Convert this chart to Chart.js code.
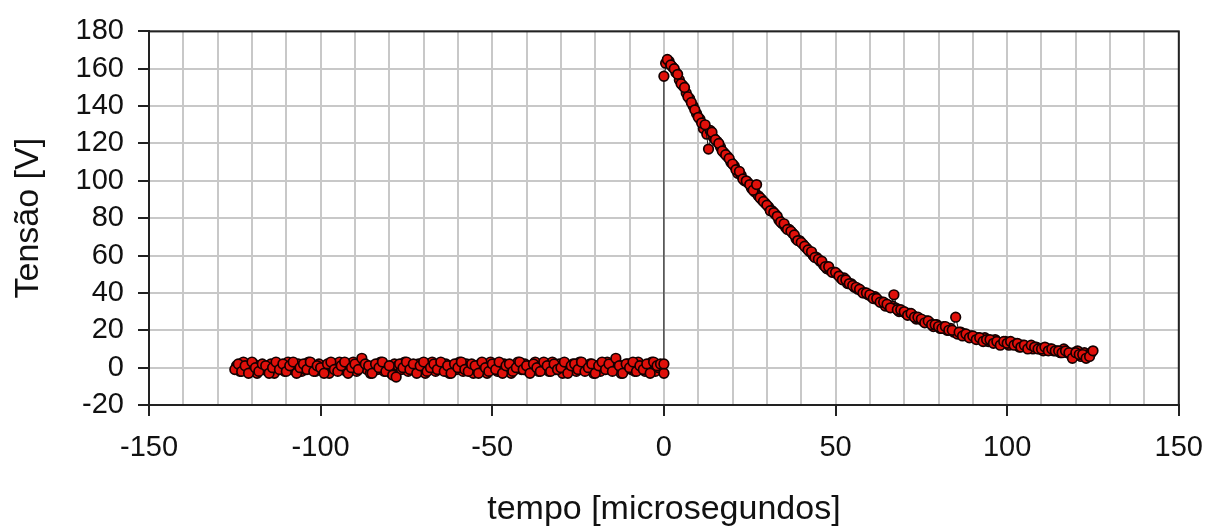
<!DOCTYPE html>
<html>
<head>
<meta charset="utf-8">
<script src="https://cdn.jsdelivr.net/npm/chart.js@4.4.1/dist/chart.umd.min.js"></script>
<style>
  body { margin: 0; background: #fff; }
  #box { width: 1218px; height: 527px; }
</style>
</head>
<body>
<div id="box"><canvas id="grafico"></canvas></div>
<script>
//______________________________________________________
// before the switch: tempo [us] and tensao [V]
var tempoPre = [
  -125, -124, -123, -122, -121, -120, -119, -118, -117, -116,
  -115, -114, -113, -112, -111, -110, -109, -108, -107, -106,
  -105, -104, -103, -102, -101, -100, -99, -98, -97, -96,
  -95, -94, -93, -92, -91, -90, -89, -88, -87, -86,
  -85, -84, -83, -82, -81, -80, -79, -78, -77, -76,
  -75, -74, -73, -72, -71, -70, -69, -68, -67, -66,
  -65, -64, -63, -62, -61, -60, -59, -58, -57, -56,
  -55, -54, -53, -52, -51, -50, -49, -48, -47, -46,
  -45, -44, -43, -42, -41, -40, -39, -38, -37, -36,
  -35, -34, -33, -32, -31, -30, -29, -28, -27, -26,
  -25, -24, -23, -22, -21, -20, -19, -18, -17, -16,
  -15, -14, -13, -12, -11, -10, -9, -8, -7, -6,
  -5, -4, -3, -2, -1, 0, 0
];
var tensaoPre = [
  -1, 2, -2, 1, -3, 3, 0, -2, 2, 1,
  -3, 0, 3, -1, 2, -2, 1, 3, -3, 0,
  2, -1, 3, -2, 1, 0, -3, 2, 3, -1,
  -2, 1, 3, -3, 0, 2, -1, 5, 2, 1,
  -3, 2, 0, 3, -2, 1, -4, -5, 2, 0,
  3, -1, 2, -3, 1, 3, -2, 0, 2, -1,
  3, -2, 1, -3, 2, 0, 3, -1, -2, 2,
  1, -3, 3, 0, -2, 2, -1, 3, -3, 1,
  2, -2, 0, 3, -1, 1, -3, 2, 0, -2,
  3, 1, -2, 2, -1, 0, 3, -3, 1, 2,
  -1, 3, -2, 0, 2, -3, 1, 3, -1, 2,
  -2, 5, 1, -3, 2, 0, 3, -2, 1, -1,
  2, -3, 3, 1, 2, -3, 2
];
// samples taken between the ones above
var tempoPreMeio = [
  -124.5, -123.5, -122.5, -121.5, -120.5, -119.5, -118.5, -117.5, -116.5, -115.5,
  -114.5, -113.5, -112.5, -111.5, -110.5, -109.5, -108.5, -107.5, -106.5, -105.5,
  -104.5, -103.5, -102.5, -101.5, -100.5, -99.5, -98.5, -97.5, -96.5, -95.5,
  -94.5, -93.5, -92.5, -91.5, -90.5, -89.5, -88.5, -87.5, -86.5, -85.5,
  -84.5, -83.5, -82.5, -81.5, -80.5, -79.5, -78.5, -77.5, -76.5, -75.5,
  -74.5, -73.5, -72.5, -71.5, -70.5, -69.5, -68.5, -67.5, -66.5, -65.5,
  -64.5, -63.5, -62.5, -61.5, -60.5, -59.5, -58.5, -57.5, -56.5, -55.5,
  -54.5, -53.5, -52.5, -51.5, -50.5, -49.5, -48.5, -47.5, -46.5, -45.5,
  -44.5, -43.5, -42.5, -41.5, -40.5, -39.5, -38.5, -37.5, -36.5, -35.5,
  -34.5, -33.5, -32.5, -31.5, -30.5, -29.5, -28.5, -27.5, -26.5, -25.5,
  -24.5, -23.5, -22.5, -21.5, -20.5, -19.5, -18.5, -17.5, -16.5, -15.5,
  -14.5, -13.5, -12.5, -11.5, -10.5, -9.5, -8.5, -7.5, -6.5, -5.5,
  -4.5, -3.5, -2.5, -1.5, -0.5
];
var tensaoPreMeio = [
  1, -2, 3, 0, -1, 2, -3, 1, 0, -2,
  2, -3, 1, 0, -2, 3, -1, 0, 2, -2,
  -1, 3, 0, -2, 2, -1, 1, -3, 0, 2,
  3, -1, -2, 1, 3, -2, 0, 2, -1, -3,
  1, -1, 3, -2, 0, -3, 2, 1, -1, 3,
  -2, 1, 0, 2, -1, -3, 2, 3, -2, 1,
  0, 2, -3, 1, -1, 3, -2, 2, 0, -3,
  -1, 2, 0, -3, 3, 1, -2, 0, 2, -1,
  -3, 1, 3, -1, 2, -2, 0, 3, -2, 1,
  0, -2, 3, -1, 2, -3, 1, 0, 2, -2,
  3, 0, -1, 2, -3, 1, -2, 0, 3, -1,
  1, 2, -3, 0, 2, -1, -2, 3, 0, -2,
  1, 3, -2, 0, 1
];
// after the switch: the discharge
var tempoPos = [
  0, 1, 2, 3, 4, 5, 6, 7, 8, 9,
  10, 11, 12, 13, 14, 15, 16, 17, 18, 19,
  20, 21, 22, 23, 24, 25, 26, 27, 28, 29,
  30, 31, 32, 33, 34, 35, 36, 37, 38, 39,
  40, 41, 42, 43, 44, 45, 46, 47, 48, 49,
  50, 51, 52, 53, 54, 55, 56, 57, 58, 59,
  60, 61, 62, 63, 64, 65, 66, 67, 68, 69,
  70, 71, 72, 73, 74, 75, 76, 77, 78, 79,
  80, 81, 82, 83, 84, 85, 86, 87, 88, 89,
  90, 91, 92, 93, 94, 95, 96, 97, 98, 99,
  100, 101, 102, 103, 104, 105, 106, 107, 108, 109,
  110, 111, 112, 113, 114, 115, 116, 117, 118, 119,
  120, 121, 122, 123, 124, 125
];
var tensaoPos = [
  156, 165, 162, 160, 157, 152, 150, 145, 142, 138,
  134, 131, 130, 117, 126, 122, 120, 116, 114, 112,
  109, 106, 105, 101, 100, 98, 95, 98, 91, 89,
  87, 84, 83, 81, 78, 77, 74, 73, 71, 68,
  67, 65, 63, 62, 59, 58, 57, 54, 54, 51,
  51, 49, 47, 47, 45, 44, 43, 42, 40, 40,
  39, 37, 37, 35, 35, 34, 32, 39, 31, 31,
  30, 28, 29, 27, 27, 26, 24, 25, 23, 23,
  22, 21, 22, 20, 20, 27, 19, 17, 18, 16,
  17, 15, 16, 14, 15, 15, 13, 14, 12, 14,
  13, 14, 12, 13, 11, 12, 10, 12, 11, 10,
  10, 11, 9, 10, 9, 9, 8, 9, 8, 5,
  8, 7, 7, 5, 6, 9
];
var tempoPosMeio = [
  0.5, 1.5, 2.5, 3.5, 4.5, 5.5, 6.5, 7.5, 8.5, 9.5,
  10.5, 11.5, 12.5, 13.5, 14.5, 15.5, 16.5, 17.5, 18.5, 19.5,
  20.5, 21.5, 22.5, 23.5, 24.5, 25.5, 26.5, 27.5, 28.5, 29.5,
  30.5, 31.5, 32.5, 33.5, 34.5, 35.5, 36.5, 37.5, 38.5, 39.5,
  40.5, 41.5, 42.5, 43.5, 44.5, 45.5, 46.5, 47.5, 48.5, 49.5,
  50.5, 51.5, 52.5, 53.5, 54.5, 55.5, 56.5, 57.5, 58.5, 59.5,
  60.5, 61.5, 62.5, 63.5, 64.5, 65.5, 66.5, 67.5, 68.5, 69.5,
  70.5, 71.5, 72.5, 73.5, 74.5, 75.5, 76.5, 77.5, 78.5, 79.5,
  80.5, 81.5, 82.5, 83.5, 84.5, 85.5, 86.5, 87.5, 88.5, 89.5,
  90.5, 91.5, 92.5, 93.5, 94.5, 95.5, 96.5, 97.5, 98.5, 99.5,
  100.5, 101.5, 102.5, 103.5, 104.5, 105.5, 106.5, 107.5, 108.5, 109.5,
  110.5, 111.5, 112.5, 113.5, 114.5, 115.5, 116.5, 117.5, 118.5, 119.5,
  120.5, 121.5, 122.5, 123.5, 124.5
];
var tensaoPosMeio = [
  163, 164, 161, 158, 154, 151, 147, 144, 140, 136,
  133, 128, 125, 127, 123, 121, 118, 115, 113, 110,
  108, 104, 103, 100, 99, 96, 94, 92, 90, 88,
  86, 84, 82, 79, 77, 75, 74, 72, 69, 68,
  66, 64, 62, 60, 59, 57, 55, 53, 52, 51,
  50, 48, 48, 45, 45, 43, 42, 41, 40, 39,
  38, 38, 36, 35, 33, 33, 33, 32, 30, 30,
  29, 29, 28, 26, 26, 25, 25, 24, 22, 23,
  21, 22, 20, 21, 19, 18, 19, 18, 17, 17,
  16, 16, 15, 16, 14, 14, 15, 13, 13, 14,
  12, 13, 13, 11, 12, 11, 11, 10, 11, 10,
  9, 10, 10, 9, 9, 8, 10, 8, 7, 8,
  9, 6, 8, 7, 8
];
const TituloX = 'tempo [microsegundos]';
const TituloY = 'Tensão [V]';
const Fonte = "'Liberation Sans', Arial, sans-serif";
//______________________________________________________
function pairUp (xs, ys) { // {x,y} objects for the scatter
    return xs.map(function (t, i) { return {x: t, y: ys[i]}; });
}
//______________________________________________________
const frame = { // black box round the plot area
    id: 'frame',
    beforeDatasetsDraw (chart) {
        var ctx = chart.ctx, a = chart.chartArea;
        ctx.save();
        ctx.strokeStyle = '#222';
        ctx.lineWidth = 2;
        ctx.strokeRect(a.left, a.top, a.right - a.left, a.bottom - a.top);
        ctx.restore();
    }
};
//______________________________________________________
var marker = {
    pointRadius: 4.8,
    pointBackgroundColor: '#e0100a',
    pointBorderColor: '#140000',
    pointBorderWidth: 1.7
};
new Chart('grafico', {
    type: 'scatter',
    data: {
        datasets: [
            Object.assign({
                data: pairUp(tempoPre, tensaoPre).concat(pairUp(tempoPos, tensaoPos)),
                showLine: true, borderColor: '#111', borderWidth: 1
            }, marker),
            Object.assign({
                data: pairUp(tempoPreMeio, tensaoPreMeio).concat(pairUp(tempoPosMeio, tensaoPosMeio)),
                showLine: false
            }, marker)
        ]
    },
    options: {
        responsive: true,
        maintainAspectRatio: false,
        devicePixelRatio: 1,
        animation: false,
        layout: { padding: { top: 24, right: 28, left: 0, bottom: 0 } },
        plugins: { legend: { display: false }, tooltip: { enabled: false } },
        scales: {
            x: {
                type: 'linear',
                min: -150, max: 150,
                afterFit: function (s) { s.height = 122; },
                border: { color: '#222', width: 2 },
                grid: {
                    color: '#c8c8c8', lineWidth: 2, tickLength: 11, tickWidth: 2,
                    tickColor: function (c) { return c.tick.value % 50 === 0 ? '#222' : 'rgba(0,0,0,0)'; }
                },
                ticks: {
                    stepSize: 10, autoSkip: false, maxRotation: 0, padding: 15,
                    color: '#111', font: { family: Fonte, size: 29 },
                    callback: function (v) { return v % 50 === 0 ? v : ''; }
                },
                title: {
                    display: true, text: TituloX, color: '#111',
                    font: { family: Fonte, size: 34, lineHeight: 1 },
                    padding: { top: 0, bottom: 0 }
                }
            },
            y: {
                min: -20, max: 180,
                afterFit: function (s) { s.width = 149; },
                border: { color: '#222', width: 2 },
                grid: { color: '#c8c8c8', lineWidth: 2, tickLength: 11, tickWidth: 2, tickColor: '#222' },
                ticks: {
                    stepSize: 20, autoSkip: false, padding: 14,
                    color: '#111', font: { family: Fonte, size: 29 }
                },
                title: {
                    display: true, text: TituloY, color: '#111',
                    font: { family: Fonte, size: 34, lineHeight: 1 },
                    padding: { top: 12, bottom: 0 }
                }
            }
        }
    },
    plugins: [frame]
});
</script>
</body>
</html>
